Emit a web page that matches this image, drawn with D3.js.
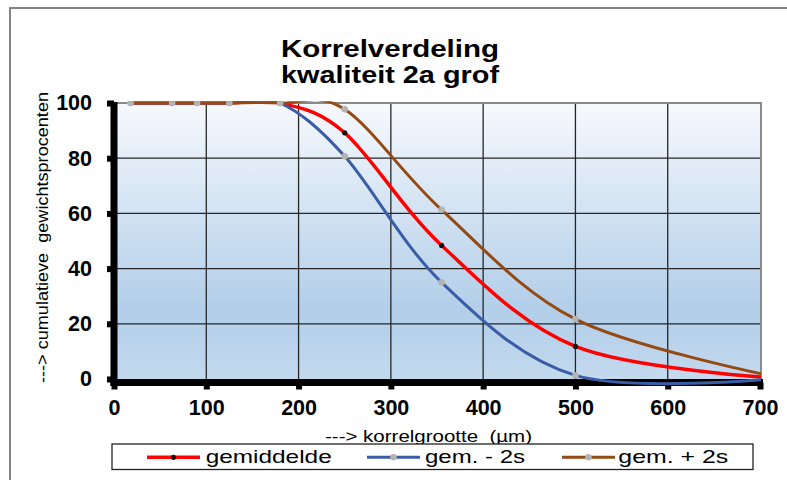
<!DOCTYPE html>
<html>
<head>
<meta charset="utf-8">
<script src="https://cdn.jsdelivr.net/npm/d3@7"></script>
<style>
  body { margin: 0; background: #fff; }
  text { font-family: "Liberation Sans", Arial, sans-serif; white-space: pre; }
</style>
</head>
<body>
<div id="chart"></div>
<script>
// sieve sizes (µm) and cumulative passing percentages
const sizes = [18, 63, 90, 125, 180, 250, 355, 500, 710];
const gemiddelde = [100, 100, 100, 100, 100, 89.2, 48.4, 11.8, 0.5];
const gemMin2s = [100, 100, 100, 100, 100, 80.7, 35, 1.3, 0];
const gemPlus2s = [100, 100, 100, 100, 100, 97.7, 61.3, 21.7, 1.3];

const xTicks = [0, 100, 200, 300, 400, 500, 600, 700];
const yTicks = [0, 20, 40, 60, 80, 100];
const seriesNames = ['gemiddelde', 'gem. - 2s', 'gem. + 2s'];

// Configuration settings for the chart size and plot position
const config_size = {
  svg_width: 787,
  svg_height: 480,
  plot: { left: 114, right: 760, top: 103, bottom: 379 },
};

const series = [
  { name: seriesNames[0], values: gemiddelde, color: '#ff0000', width: 3.5, marker: '#111', r: 2.6 },
  { name: seriesNames[1], values: gemMin2s, color: '#3a5da7', width: 3, marker: '#b4b4b4', r: 3.3 },
  { name: seriesNames[2], values: gemPlus2s, color: '#954a14', width: 3, marker: '#b4b4b4', r: 3.3 },
];

const svg = d3.select('#chart').append('svg')
  .attr('width', config_size.svg_width)
  .attr('height', config_size.svg_height);

const p = config_size.plot;

const x = d3.scaleLinear().domain([0, 700]).range([p.left, p.right]);
const y = d3.scaleLinear().domain([0, 100]).range([p.bottom, p.top]);

// outer frame of the chart object
svg.append('path')
  .attr('d', `M10,480 L10,8 L787,8`)
  .attr('fill', 'none')
  .attr('stroke', '#828282')
  .attr('stroke-width', 2);

// title
const title = svg.append('g').attr('class', 'title').style('font-weight', 'bold').style('font-size', '24.5px');
title.append('text').attr('x', 281).attr('y', 56.5)
  .attr('textLength', 218).attr('lengthAdjust', 'spacingAndGlyphs')
  .text('Korrelverdeling');
title.append('text').attr('x', 281).attr('y', 83)
  .attr('textLength', 218).attr('lengthAdjust', 'spacingAndGlyphs')
  .text('kwaliteit 2a grof');

// plot background gradient
const defs = svg.append('defs');
const grad = defs.append('linearGradient').attr('id', 'bg').attr('x1', 0).attr('y1', 0).attr('x2', 0).attr('y2', 1);
grad.append('stop').attr('offset', '0%').attr('stop-color', '#f6f9fd');
grad.append('stop').attr('offset', '75%').attr('stop-color', '#b2cee9');
grad.append('stop').attr('offset', '100%').attr('stop-color', '#c3d9ee');

defs.append('clipPath').attr('id', 'clip')
  .append('rect')
  .attr('x', p.left)
  .attr('y', p.top - 1.8)
  .attr('width', p.right - p.left + 1)
  .attr('height', p.bottom - p.top + 10);

svg.append('rect')
  .attr('x', p.left).attr('y', p.top)
  .attr('width', p.right - p.left).attr('height', p.bottom - p.top)
  .attr('fill', 'url(#bg)');

// gridlines
const grid = svg.append('g').attr('stroke', '#262626').attr('stroke-width', 1.3);
grid.selectAll('.vg').data(xTicks.slice(1, -1)).join('line')
  .attr('x1', d => x(d)).attr('x2', d => x(d))
  .attr('y1', p.top).attr('y2', p.bottom);
grid.selectAll('.hg').data(yTicks.slice(1, -1)).join('line')
  .attr('x1', p.left).attr('x2', p.right)
  .attr('y1', d => y(d)).attr('y2', d => y(d));

// plot border (top and right)
svg.append('path')
  .attr('d', `M${p.left},${p.top} L${p.right + 1},${p.top} L${p.right + 1},${p.bottom}`)
  .attr('fill', 'none')
  .attr('stroke', '#8a8a8a')
  .attr('stroke-width', 2);

// axes
const xAxis = svg.append('g')
  .attr('transform', `translate(0,${p.bottom + 3.5})`)
  .call(d3.axisBottom(x).tickValues(xTicks).tickSizeInner(7).tickSizeOuter(0).tickPadding(10.5));
const yAxis = svg.append('g')
  .attr('transform', `translate(${p.left},0)`)
  .call(d3.axisLeft(y).tickValues(yTicks).tickSizeInner(7).tickSizeOuter(0).tickPadding(15));

[xAxis, yAxis].forEach(a => {
  a.select('.domain').attr('stroke', '#000').attr('stroke-width', 7);
  a.selectAll('.tick line').attr('stroke', '#000').attr('stroke-width', 6);
  a.selectAll('.tick text')
    .attr('fill', '#000')
    .style('font-family', '"Liberation Sans", Arial, sans-serif')
    .style('font-size', '21.5px')
    .style('font-weight', 'bold');
});
// extend domains over the corner
xAxis.select('.domain').attr('d', `M${p.left - 3.5},0H${p.right + 3}`);
yAxis.select('.domain').attr('d', `M0,${p.top - 1}V${p.bottom + 7}`);

// series lines and markers
const line = d3.line()
  .x((d, i) => x(sizes[i]))
  .y(d => y(d))
  .curve(d3.curveCardinal.tension(0));

const plot_g = svg.append('g').attr('clip-path', 'url(#clip)');
series.forEach(s => {
  plot_g.append('path')
    .datum(s.values)
    .attr('fill', 'none')
    .attr('stroke', s.color)
    .attr('stroke-width', s.width)
    .attr('d', line);
  plot_g.selectAll(null).data(s.values).join('circle')
    .attr('cx', (d, i) => x(sizes[i]))
    .attr('cy', d => y(d))
    .attr('r', s.r)
    .attr('fill', s.marker);
});

// axis titles
svg.append('text')
  .attr('x', 325).attr('y', 441.5)
  .attr('textLength', 207).attr('lengthAdjust', 'spacingAndGlyphs')
  .style('font-size', '16px')
  .text('---> korrelgrootte  (µm)');

svg.append('text')
  .attr('transform', 'translate(48,383) rotate(-90)')
  .attr('textLength', 291).attr('lengthAdjust', 'spacingAndGlyphs')
  .style('font-size', '16.5px')
  .text('---> cumulatieve  gewichtsprocenten');

// legend
const legend = svg.append('g').attr('class', 'legend');
legend.append('rect')
  .attr('x', 112).attr('y', 444)
  .attr('width', 641).attr('height', 25.5)
  .attr('fill', '#fff')
  .attr('stroke', '#222')
  .attr('stroke-width', 1.3);

const legendPos = [
  { x1: 147, x2: 200, tx: 205.7, tl: 126 },
  { x1: 367, x2: 420, tx: 425, tl: 100 },
  { x1: 562, x2: 615, tx: 618.3, tl: 110 },
];
series.forEach((s, i) => {
  const lp = legendPos[i];
  legend.append('line')
    .attr('x1', lp.x1).attr('x2', lp.x2)
    .attr('y1', 457.3).attr('y2', 457.3)
    .attr('stroke', s.color).attr('stroke-width', s.width);
  legend.append('circle')
    .attr('cx', (lp.x1 + lp.x2) / 2).attr('cy', 457.3)
    .attr('r', s.r).attr('fill', s.marker);
  legend.append('text')
    .attr('x', lp.tx).attr('y', 463)
    .attr('textLength', lp.tl).attr('lengthAdjust', 'spacingAndGlyphs')
    .style('font-size', '18.5px')
    .text(s.name);
});
</script>
</body>
</html>
